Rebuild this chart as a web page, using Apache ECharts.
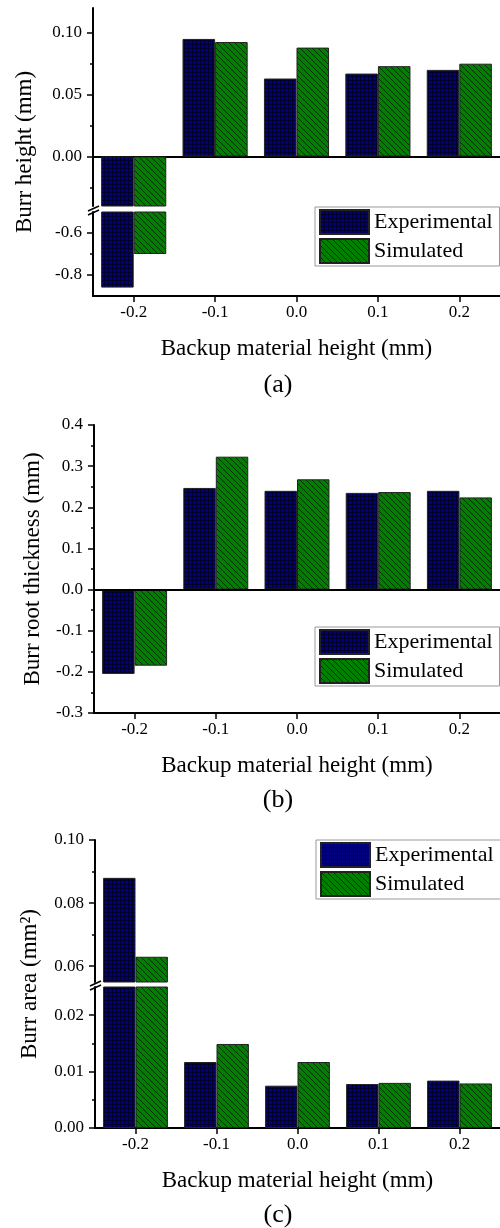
<!DOCTYPE html>
<html>
<head>
<meta charset="utf-8">
<script src="https://cdn.jsdelivr.net/npm/echarts@6/dist/echarts.min.js"></script>
<style>
  html, body { margin: 0; padding: 0; background: #fff; }
  #chart { width: 500px; height: 1228px; }
</style>
</head>
<body>
<div id="chart"></div>
<script>
const categories = ['-0.2', '-0.1', '0.0', '0.1', '0.2'];

// (a) burr height, mm
const heightExp = [-0.86, 0.095, 0.063, 0.067, 0.070];
const heightSim = [-0.70, 0.0925, 0.088, 0.073, 0.075];
// (b) burr root thickness, mm
const rootExp = [-0.205, 0.247, 0.240, 0.235, 0.240];
const rootSim = [-0.185, 0.323, 0.268, 0.237, 0.224];
// (c) burr area, mm2
const areaExp = [0.088, 0.0117, 0.0075, 0.0078, 0.0084];
const areaSim = [0.063, 0.0149, 0.0117, 0.0080, 0.0079];

// tick values of the broken axes
const heightUpperTicks = [0, 0.05, 0.10];
const heightUpperMinor = [-0.025, 0.025, 0.075];
const heightLowerTicks = [-0.8, -0.6];
const heightLowerMinor = [-0.7];
const areaUpperTicks = [0.06, 0.08, 0.10];
const areaUpperMinor = [0.07, 0.09];
const areaLowerTicks = [0, 0.01, 0.02];
const areaLowerMinor = [0.005, 0.015];

const FONT = 'Liberation Serif';
const xTitle = 'Backup material height (mm)';

function gridPattern() {
  const c = document.createElement('canvas');
  c.width = 4; c.height = 4;
  const g = c.getContext('2d');
  g.fillStyle = '#000080';
  g.fillRect(0, 0, 4, 4);
  g.fillStyle = '#00002a';
  g.fillRect(0, 0, 4, 1);
  g.fillRect(0, 0, 1, 4);
  return c;
}
function hatchPattern() {
  const c = document.createElement('canvas');
  c.width = 6; c.height = 6;
  const g = c.getContext('2d');
  g.fillStyle = '#007f00';
  g.fillRect(0, 0, 6, 6);
  g.fillStyle = '#003300';
  for (let i = 0; i < 6; i++) g.fillRect(i, i, 1, 1);
  return c;
}
const expStyle = { color: { image: gridPattern(), repeat: 'repeat' }, borderColor: '#222', borderWidth: 1 };
const simStyle = { color: { image: hatchPattern(), repeat: 'repeat' }, borderColor: '#222', borderWidth: 1 };

const axisLine = { show: true, onZero: false, lineStyle: { color: '#000', width: 2 } };
const tickLine = { color: '#000', width: 1.5 };
const labelStyle = { fontFamily: FONT, fontSize: 17, color: '#000' };
const titleStyle = { fontFamily: FONT, fontSize: 23, color: '#000' };

function xAxis(gridIndex, bottom) {
  return {
    type: 'category', gridIndex, data: categories,
    axisLine: bottom ? axisLine : { show: true, onZero: true, lineStyle: { color: '#000', width: 2 } },
    axisTick: { show: bottom, alignWithLabel: true, length: 6, lineStyle: tickLine },
    axisLabel: Object.assign({ show: bottom, margin: 8 }, labelStyle),
    name: bottom ? xTitle : '',
    nameLocation: 'middle', nameGap: 41,
    nameTextStyle: titleStyle
  };
}
function majorY(gridIndex, min, max, ticks, digits) {
  return {
    type: 'value', gridIndex, position: 'left', min, max,
    axisLine,
    axisTick: { show: true, length: 6, lineStyle: tickLine, customValues: ticks },
    axisLabel: Object.assign({
      margin: 11, customValues: ticks,
      formatter: v => Number(v).toFixed(digits)
    }, labelStyle),
    splitLine: { show: false }
  };
}
function minorY(gridIndex, min, max, ticks) {
  return {
    type: 'value', gridIndex, position: 'left', min, max,
    axisLine: { show: false },
    axisTick: { show: true, length: 3, lineStyle: tickLine, customValues: ticks },
    axisLabel: { show: false },
    splitLine: { show: false }
  };
}
function nameY(gridIndex, name, gap) {
  return {
    type: 'value', gridIndex, position: 'left',
    name, nameLocation: 'middle', nameGap: gap, nameRotate: 90,
    nameTextStyle: titleStyle,
    axisLine: { show: false }, axisTick: { show: false },
    axisLabel: { show: false }, splitLine: { show: false }
  };
}
function bars(name, data, style, xi, yi, extra) {
  return Object.assign({
    name, type: 'bar', data, xAxisIndex: xi, yAxisIndex: yi,
    barGap: '0%', barCategoryGap: '20%', itemStyle: style, clip: true
  }, extra || {});
}
function legend(left, top) {
  return {
    left, top, orient: 'vertical', icon: 'rect',
    itemWidth: 49, itemHeight: 24, itemGap: 3, padding: [2, 7, 2, 4],
    borderColor: '#999', borderWidth: 1, backgroundColor: '#fff',
    textStyle: { fontFamily: FONT, fontSize: 22, color: '#000' },
    data: ['Experimental', 'Simulated']
  };
}
function breakMarks(x, y) {
  return [
    { type: 'line', shape: { x1: x - 5, y1: y + 2, x2: x + 6, y2: y - 3 }, style: { stroke: '#000', lineWidth: 1.5 } },
    { type: 'line', shape: { x1: x - 5, y1: y + 6, x2: x + 6, y2: y + 1 }, style: { stroke: '#000', lineWidth: 1.5 } }
  ];
}
function panelLabel(text, x, y) {
  return {
    type: 'text', x, y,
    style: { text, fontFamily: FONT, fontSize: 26, fill: '#000', textAlign: 'center', textVerticalAlign: 'middle' }
  };
}

const myChart = echarts.init(document.getElementById('chart'));
const option = {
  animation: false,
  backgroundColor: '#fff',
  grid: [
    { left: 93, top: 8, width: 410, height: 198 },   // a upper
    { left: 93, top: 212, width: 410, height: 84 },  // a lower
    { left: 93, top: 8, width: 410, height: 288 },   // a frame (name)
    { left: 94, top: 425, width: 410, height: 288 }, // b
    { left: 95, top: 840, width: 410, height: 142 }, // c upper
    { left: 95, top: 987, width: 410, height: 141 }, // c lower
    { left: 95, top: 840, width: 410, height: 288 }  // c frame (name)
  ],
  xAxis: [
    xAxis(0, false),
    xAxis(1, true),
    { type: 'category', gridIndex: 2, data: categories, show: false },
    xAxis(3, true),
    Object.assign(xAxis(4, false), { axisLine: { show: false } }),
    xAxis(5, true),
    { type: 'category', gridIndex: 6, data: categories, show: false }
  ],
  yAxis: [
    majorY(0, -0.04, 0.12, heightUpperTicks, 2),
    minorY(0, -0.04, 0.12, heightUpperMinor),
    majorY(1, -0.9, -0.5, heightLowerTicks, 1),
    minorY(1, -0.9, -0.5, heightLowerMinor),
    nameY(2, 'Burr height (mm)', 57),
    {
      type: 'value', gridIndex: 3, position: 'left', min: -0.3, max: 0.4, interval: 0.1,
      axisLine,
      axisTick: { show: true, length: 6, lineStyle: tickLine },
      minorTick: { show: true, splitNumber: 2, length: 3, lineStyle: tickLine },
      axisLabel: Object.assign({ margin: 11, formatter: v => Number(v).toFixed(1) }, labelStyle),
      splitLine: { show: false },
      name: 'Burr root thickness (mm)', nameLocation: 'middle', nameGap: 50, nameRotate: 90,
      nameTextStyle: titleStyle
    },
    majorY(4, 0.055, 0.10, areaUpperTicks, 2),
    minorY(4, 0.055, 0.10, areaUpperMinor),
    majorY(5, 0, 0.025, areaLowerTicks, 2),
    minorY(5, 0, 0.025, areaLowerMinor),
    nameY(6, 'Burr area (mm²)', 54)
  ],
  legend: [legend(315, 207), legend(315, 627), legend(316, 840)],
  series: [
    bars('Experimental', heightExp, expStyle, 0, 0),
    bars('Simulated', heightSim, simStyle, 0, 0),
    bars('Experimental', heightExp, expStyle, 1, 2),
    bars('Simulated', heightSim, simStyle, 1, 2),
    bars('Experimental', rootExp, expStyle, 3, 5, {
      markLine: {
        silent: true, symbol: ['none', 'none'], label: { show: false },
        lineStyle: { color: '#000', width: 2, type: 'solid' },
        data: [{ yAxis: 0 }]
      }
    }),
    bars('Simulated', rootSim, simStyle, 3, 5),
    bars('Experimental', areaExp, expStyle, 4, 6),
    bars('Simulated', areaSim, simStyle, 4, 6),
    bars('Experimental', areaExp, expStyle, 5, 8),
    bars('Simulated', areaSim, simStyle, 5, 8)
  ],
  graphic: [
    ...breakMarks(93, 209),
    ...breakMarks(95, 984),
    panelLabel('(a)', 278, 385),
    panelLabel('(b)', 278, 800),
    panelLabel('(c)', 278, 1215)
  ]
};
myChart.setOption(option);
window.addEventListener('resize', () => {
  myChart.resize();
});
</script>
</body>
</html>
